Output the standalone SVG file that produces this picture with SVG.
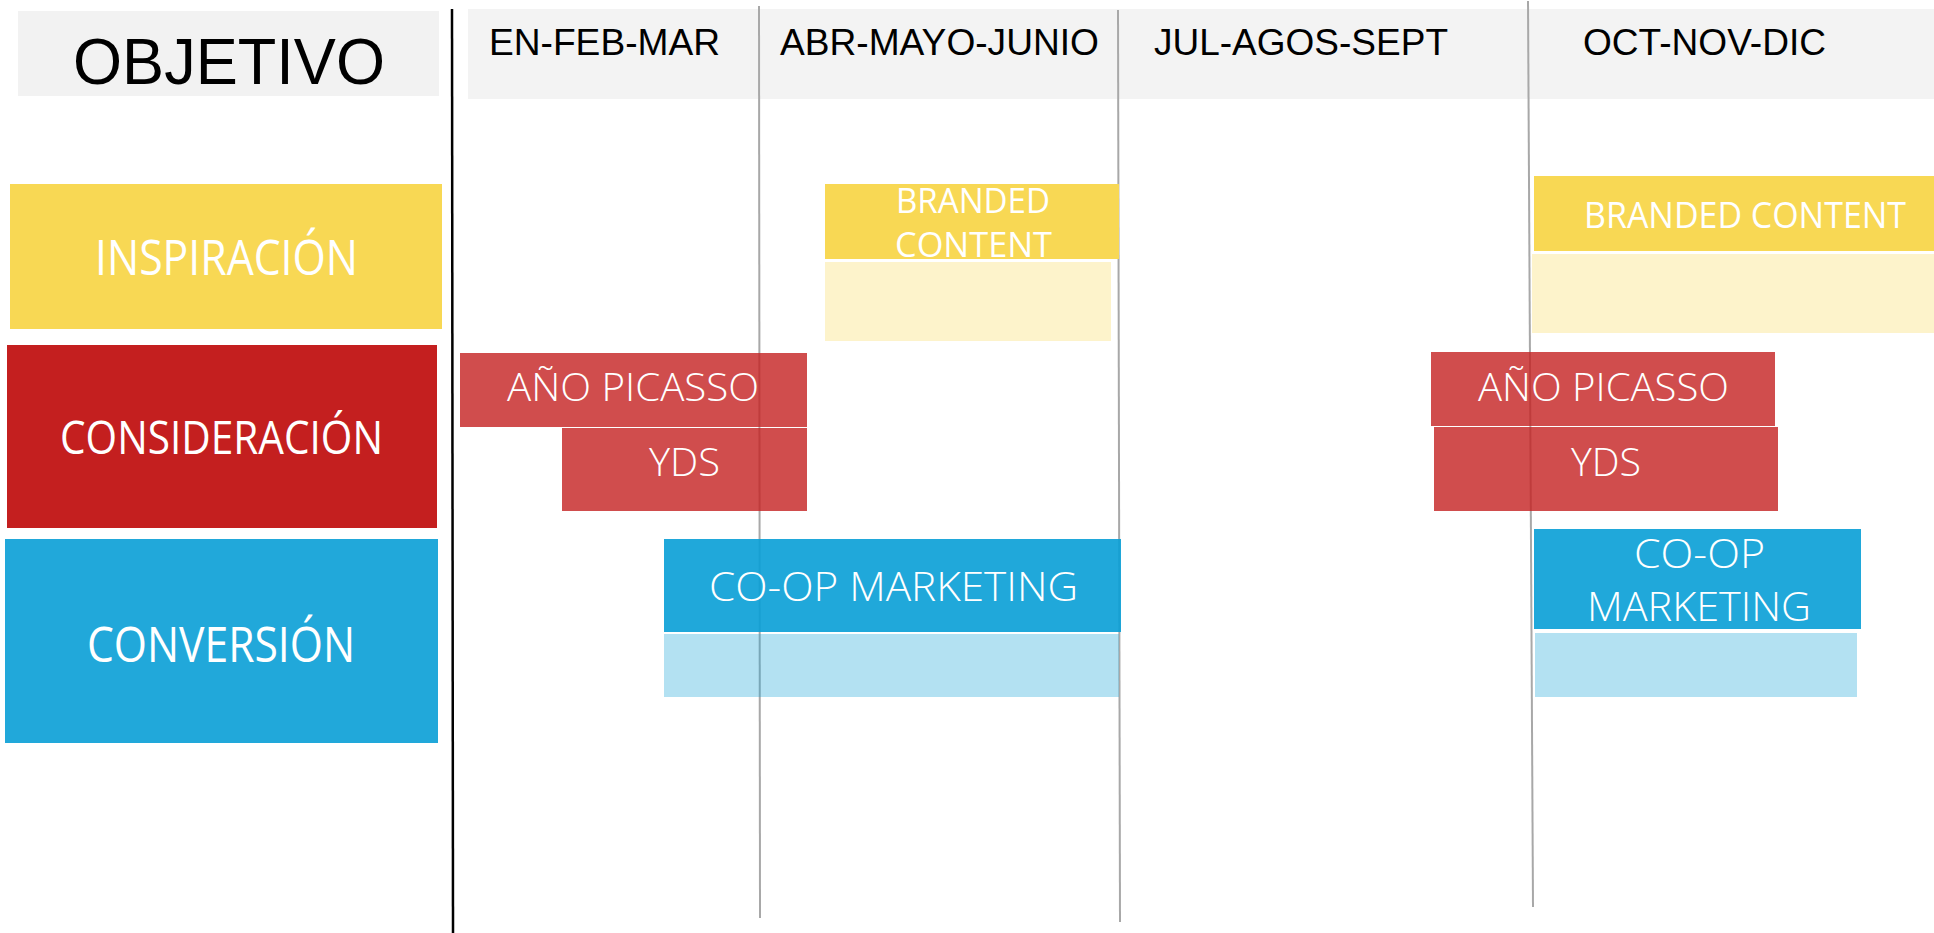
<svg xmlns="http://www.w3.org/2000/svg" width="1934" height="933" viewBox="0 0 1934 933">
<style>
.hdr{font-family:"Liberation Sans",Arial,sans-serif;font-size:36px;fill:#000}
.cat{font-family:"Open Sans","Noto Sans",sans-serif;fill:#fff;text-anchor:start}
.bar{font-family:"Open Sans","Noto Sans",sans-serif;font-weight:300;fill:#fff}
.grid{stroke:#a8a8a8;stroke-width:2;fill:none}
.red{fill:#c42020;fill-opacity:0.8}
.blue{fill:#089ed6;fill-opacity:0.9}
.lblue{fill:#21a8da;fill-opacity:0.34}
.yel{fill:#f8d854}
.lyel{fill:#f8d854;fill-opacity:0.3}
</style>
<rect x="0" y="0" width="1934" height="933" fill="#fff"/>
<g id="header">
<rect x="468" y="9" width="1466" height="90" fill="#f3f3f3"/>
<text class="hdr" x="489" y="55" textLength="231" lengthAdjust="spacingAndGlyphs">EN-FEB-MAR</text>
<text class="hdr" x="780" y="55" textLength="319" lengthAdjust="spacingAndGlyphs">ABR-MAYO-JUNIO</text>
<text class="hdr" x="1154" y="55" textLength="294" lengthAdjust="spacingAndGlyphs">JUL-AGOS-SEPT</text>
<text class="hdr" x="1583" y="55" textLength="243" lengthAdjust="spacingAndGlyphs">OCT-NOV-DIC</text>
</g>
<g id="objetivo">
<rect x="18" y="11" width="421" height="85" fill="#f2f2f2"/>
<text x="73" y="84" font-family="Liberation Sans, Arial, sans-serif" font-size="64" textLength="312" lengthAdjust="spacingAndGlyphs">OBJETIVO</text>
</g>
<g id="inspiracion">
<rect x="10" y="184" width="432" height="145" fill="#f8d854"/>
<text class="cat" x="95" y="275" font-size="49" textLength="263" lengthAdjust="spacingAndGlyphs">INSPIRACIÓN</text>
</g>
<g id="consideracion">
<rect x="7" y="345" width="430" height="183" fill="#c41f1f"/>
<text class="cat" x="60" y="454" font-size="46" textLength="323" lengthAdjust="spacingAndGlyphs">CONSIDERACIÓN</text>
</g>
<g id="conversion">
<rect x="5" y="539" width="433" height="204" fill="#21a8da"/>
<text class="cat" x="87" y="662" font-size="49" textLength="268" lengthAdjust="spacingAndGlyphs">CONVERSIÓN</text>
</g>
<g id="connectors">
<line class="grid" x1="759" y1="6" x2="760" y2="918"/>
<line class="grid" x1="1118" y1="10" x2="1120" y2="922"/>
<line class="grid" x1="1528" y1="1" x2="1533" y2="907"/>
<line x1="452" y1="9" x2="453" y2="933" stroke="#000" stroke-width="2.5"/>
</g>
<g id="branded-content-q2">
<rect class="yel" x="825" y="184" width="294" height="75"/>
<rect class="lyel" x="825" y="262" width="286" height="79"/>
<text class="cat" x="896" y="213" font-size="35" textLength="154" lengthAdjust="spacingAndGlyphs">BRANDED</text>
<text class="cat" x="895" y="257" font-size="35" textLength="157" lengthAdjust="spacingAndGlyphs">CONTENT</text>
</g>
<g id="branded-content-q4">
<rect class="yel" x="1534" y="176" width="400" height="75"/>
<rect class="lyel" x="1532" y="254" width="402" height="79"/>
<text class="cat" x="1584" y="228" font-size="36" textLength="322" lengthAdjust="spacingAndGlyphs">BRANDED CONTENT</text>
</g>
<g id="ano-picasso-q1">
<rect class="red" x="460" y="353" width="347" height="74"/>
<text class="bar" x="507" y="401" font-size="39" textLength="252" lengthAdjust="spacingAndGlyphs">AÑO PICASSO</text>
</g>
<g id="yds-q1">
<rect class="red" x="562" y="428" width="245" height="83"/>
<text class="bar" x="649" y="476" font-size="39" textLength="71" lengthAdjust="spacingAndGlyphs">YDS</text>
</g>
<g id="ano-picasso-q4">
<rect class="red" x="1431" y="352" width="344" height="74"/>
<text class="bar" x="1478" y="401" font-size="39" textLength="251" lengthAdjust="spacingAndGlyphs">AÑO PICASSO</text>
</g>
<g id="yds-q4">
<rect class="red" x="1434" y="427" width="344" height="84"/>
<text class="bar" x="1571" y="476" font-size="39" textLength="70" lengthAdjust="spacingAndGlyphs">YDS</text>
</g>
<g id="coop-q1">
<rect class="blue" x="664" y="539" width="457" height="93"/>
<rect class="lblue" x="664" y="634" width="455" height="63"/>
<text class="bar" x="709" y="601" font-size="40" textLength="369" lengthAdjust="spacingAndGlyphs">CO-OP MARKETING</text>
</g>
<g id="coop-q4">
<rect class="blue" x="1534" y="529" width="327" height="100"/>
<rect class="lblue" x="1535" y="633" width="322" height="64"/>
<text class="bar" x="1634" y="568" font-size="40" textLength="131" lengthAdjust="spacingAndGlyphs">CO-OP</text>
<text class="bar" x="1587" y="621" font-size="40" textLength="224" lengthAdjust="spacingAndGlyphs">MARKETING</text>
</g>
</svg>
